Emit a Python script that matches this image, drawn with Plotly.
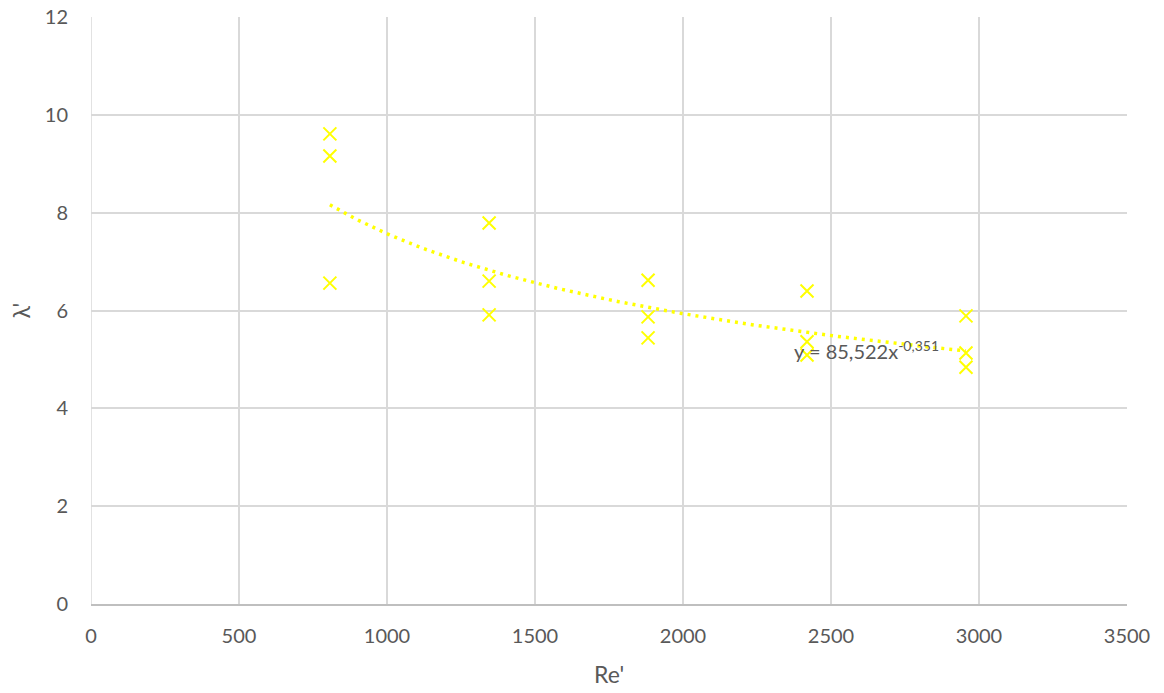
import numpy as np
import plotly.graph_objects as go

# Measured Reynolds numbers and friction factors
re_values = [807, 807, 807, 1345, 1345, 1345, 1882, 1882, 1882,
             2419, 2419, 2419, 2956, 2956, 2956]
lam_values = [9.61, 9.16, 6.56, 7.79, 6.60, 5.91, 6.62, 5.87, 5.44,
              6.40, 5.36, 5.09, 5.89, 5.13, 4.84]

# Power-law fit coefficients
fit_a = 85.522
fit_b = -0.351
fit_label = "y = 85,522x<sup>-0,351</sup>"

x_ticks = [0, 500, 1000, 1500, 2000, 2500, 3000, 3500]
y_ticks = [0, 2, 4, 6, 8, 10, 12]
x_title = "Re'"
y_title = "λ'"

fit_x = np.linspace(min(re_values), max(re_values), 200)
fit_y = fit_a * fit_x ** fit_b

font_family = "Lato, 'Open Sans', sans-serif"
grey = "#595959"
yellow = "#FFFF00"
fsize = 20
label_font = dict(family=font_family, size=fsize, color=grey)
title_font = dict(family=font_family, size=23, color=grey)

fig = go.Figure()
fig.add_trace(go.Scatter(
    x=fit_x, y=fit_y, mode="lines",
    line=dict(color=yellow, width=3.5, dash="3px,5px"),
    hoverinfo="skip", showlegend=False,
))
fig.add_trace(go.Scatter(
    x=re_values, y=lam_values, mode="markers",
    marker=dict(symbol="x-thin-open", size=13, color=yellow,
                line=dict(color=yellow, width=2)),
    showlegend=False,
))

# trendline equation
fig.add_annotation(
    x=2620, y=5.2, text=fit_label, showarrow=False, font=label_font,
    xanchor="center", yanchor="middle",
)
# axis titles
fig.add_annotation(
    xref="paper", yref="paper", x=0.5, y=0, yshift=-70,
    xanchor="center", yanchor="middle",
    text=x_title, showarrow=False, font=title_font,
)
fig.add_annotation(
    xref="paper", yref="paper", x=0, y=0.5, xshift=-71,
    xanchor="center", yanchor="middle",
    text=y_title, textangle=-90, showarrow=False, font=title_font,
)

fig.update_layout(
    width=1164, height=693,
    margin=dict(l=91, r=37, t=17, b=89),
    paper_bgcolor="white", plot_bgcolor="white",
    font=label_font,
    xaxis=dict(
        range=[0, 3500], tickvals=x_ticks, ticks="", automargin=False,
        tickfont=label_font, ticklabelstandoff=13,
        showgrid=True, gridcolor="#d9d9d9", gridwidth=1.5,
        zeroline=False, showline=True, linecolor="#bfbfbf", linewidth=1.5,
    ),
    yaxis=dict(
        range=[0, 12], tickvals=y_ticks, ticks="", automargin=False,
        tickfont=label_font, ticklabelstandoff=22,
        showgrid=True, gridcolor="#d9d9d9", gridwidth=1.5,
        zeroline=False, showline=False,
    ),
)
# vertical gridline at x = 0
fig.add_shape(type="line", xref="x", yref="paper", x0=0, x1=0, y0=0, y1=1,
              line=dict(color="#d9d9d9", width=1.5), layer="below")

fig.write_html("out.html")
